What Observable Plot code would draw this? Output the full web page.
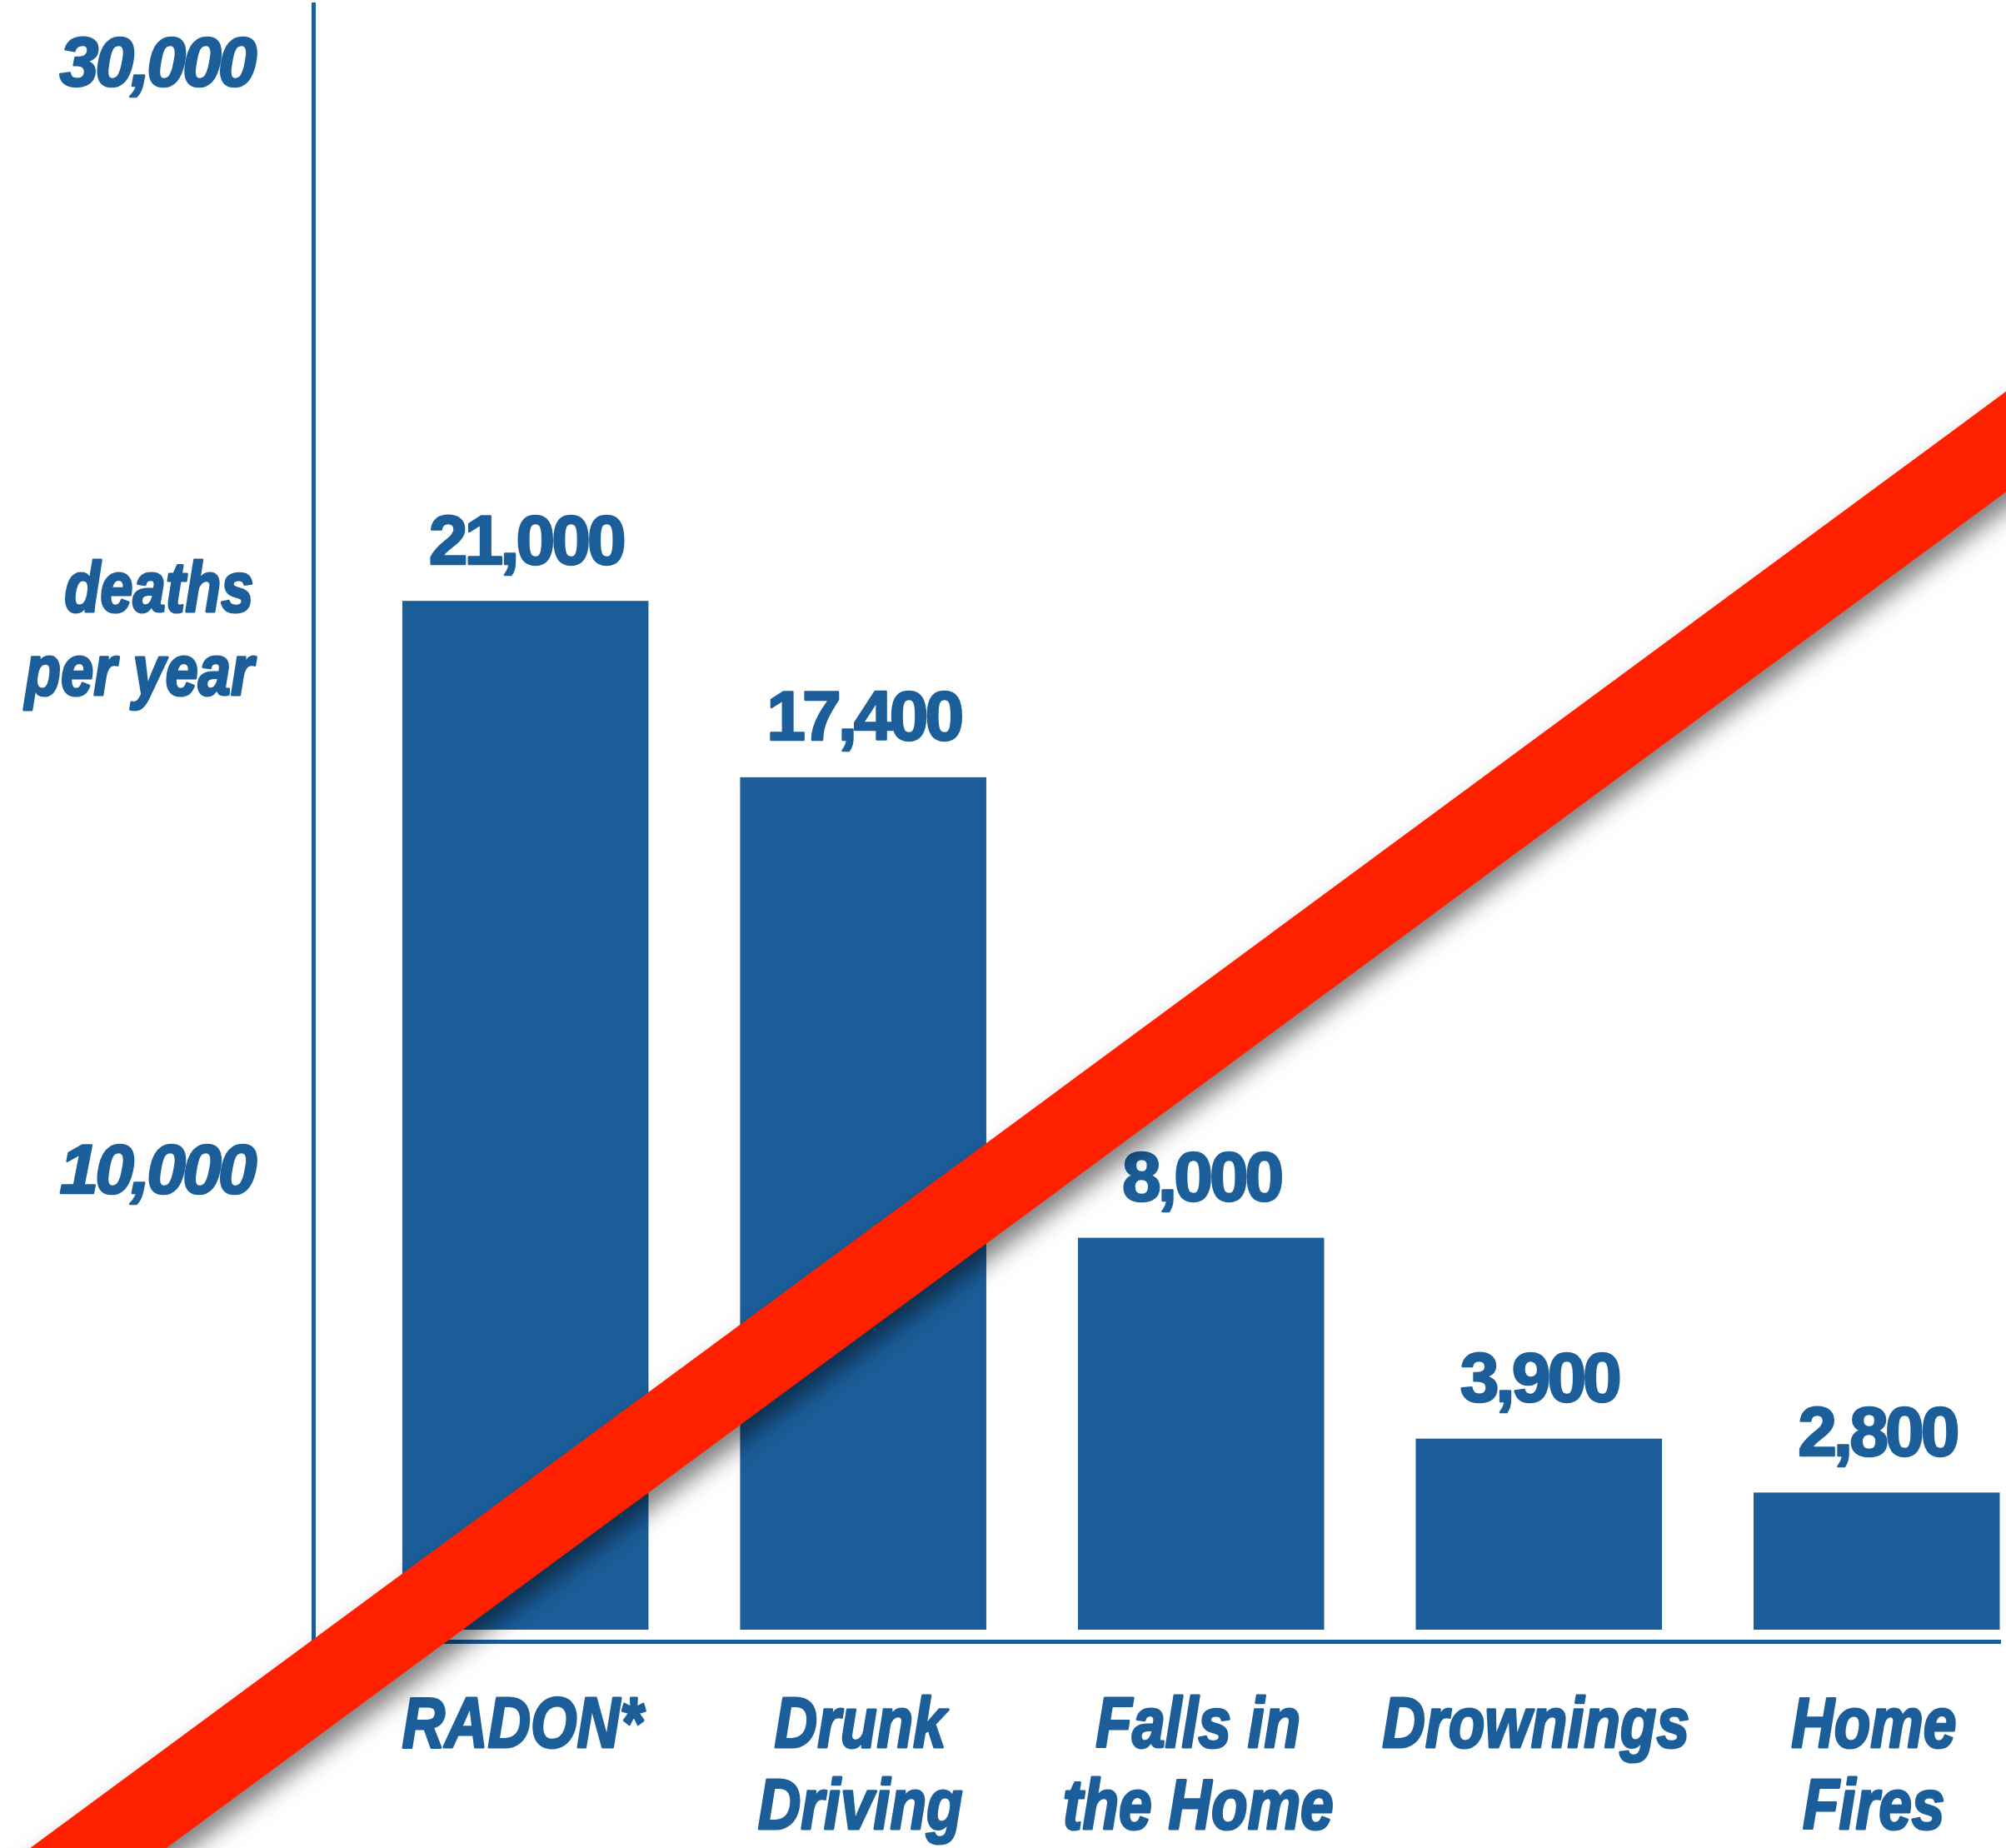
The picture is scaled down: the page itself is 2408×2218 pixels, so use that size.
<!DOCTYPE html>
<html>
<head>
<meta charset="utf-8">
<script src="https://cdn.jsdelivr.net/npm/d3@7"></script>
<script src="https://cdn.jsdelivr.net/npm/@observablehq/plot@0.6"></script>
<style>
  html, body { margin: 0; padding: 0; background: #fff; overflow: hidden; }
  #chart svg { display: block; }
  .strike { filter: drop-shadow(10px 14px 14px rgba(0,0,0,0.5)); }
  .num text { letter-spacing: -4px; }
</style>
</head>
<body>
<div id="chart"></div>
<script>
// ---- data ----
const categories = ["RADON*", "Drunk\nDriving", "Falls in\nthe Home", "Drownings", "Home\nFires"];
const deaths = [21000, 17400, 8000, 3900, 2800];
const yTicks = [10000, 30000];
const yTitle = "deaths\nper year";
// red strike-through bar, endpoints in data units (category index, deaths)
const strike = [{x: -1.425, y: -7800}, {x: 5.25, y: 26130}];

// ---- derived table ----
const data = categories.map((c, i) => ({cat: c, i, value: deaths[i]}));

const blue = "#1b5e9a";
const red = "#ff2000";
const xDomain = [-0.128, 4.868];
const yDomain = [-238, 33214];
const numFont = "'Liberation Sans', Arial, Helvetica, sans-serif";
const labFont = "'Liberation Sans', Arial, sans-serif";
const condense = 0.83; // horizontal squeeze to mimic the condensed heavy italic face
const fmt = d3.format(",");

const chart = Plot.plot({
  width: 2408,
  height: 2218,
  marginLeft: 376,
  marginRight: 6,
  marginTop: 3,
  marginBottom: 248,
  style: {background: "#fff", overflow: "hidden"},
  x: {type: "linear", domain: xDomain, axis: null},
  y: {type: "linear", domain: yDomain, axis: null},
  marks: [
    // bars
    Plot.rectY(data, {x1: "i", x2: d => d.i + 1, y: "value", fill: blue, insetLeft: 55, insetRight: 55}),
    // axis lines
    Plot.ruleX([xDomain[0]], {stroke: blue, strokeWidth: 5}),
    Plot.ruleY([yDomain[0]], {stroke: blue, strokeWidth: 5}),
    // value labels
    Plot.text(data, {
      x: d => d.i + 0.5, y: "value", text: d => fmt(d.value),
      lineAnchor: "bottom", dy: -45,
      fill: blue, stroke: blue, strokeWidth: 2.5,
      fontSize: 84, fontWeight: "bold", fontFamily: numFont, className: "num"
    }),
    // y tick labels
    Plot.text(yTicks.filter(d => d < 20000), {
      y: d => d, text: d => fmt(d), frameAnchor: "left", textAnchor: "end",
      dx: -72, dy: 37,
      fill: blue, stroke: blue, strokeWidth: 2.5,
      fontSize: 84, fontWeight: "bold", fontStyle: "italic", fontFamily: numFont, className: "num"
    }),
    Plot.text(yTicks.filter(d => d >= 20000), {
      text: d => fmt(d), frameAnchor: "top-left", textAnchor: "end", lineAnchor: "top",
      dx: -72, dy: 40,
      fill: blue, stroke: blue, strokeWidth: 2.5,
      fontSize: 84, fontWeight: "bold", fontStyle: "italic", fontFamily: numFont, className: "num"
    }),
    // y axis title
    Plot.text([yTitle], {
      text: d => d, frameAnchor: "left", textAnchor: "end", lineAnchor: "middle",
      dx: -72, dy: -235, lineHeight: 1.17,
      fill: blue, stroke: blue, strokeWidth: 3,
      fontSize: 85, fontWeight: "bold", fontStyle: "italic", fontFamily: labFont, className: "lab"
    }),
    // category labels
    Plot.text(data, {
      x: d => d.i + 0.5, text: "cat", frameAnchor: "bottom", lineAnchor: "top",
      dx: -4, dy: 57, lineHeight: 1.14,
      fill: blue, stroke: blue, strokeWidth: 3,
      fontSize: 86, fontWeight: "bold", fontStyle: "italic", fontFamily: labFont, className: "lab"
    }),
    // red strike
    Plot.line(strike, {x: "x", y: "y", stroke: red, strokeWidth: 97, strokeLinecap: "butt", className: "strike"})
  ]
});

// squeeze label text horizontally about its anchor point
chart.querySelectorAll(".lab text").forEach(el => {
  const t = el.getAttribute("transform") || "";
  const m = /translate\(\s*([-\d.e]+)[\s,]+([-\d.e]+)\s*\)/.exec(t);
  const X = m ? +m[1] : +(el.getAttribute("x") || 0);
  el.setAttribute("transform", `translate(${X},0) scale(${condense},1) translate(${-X},0) ${t}`);
});

document.getElementById("chart").appendChild(chart);
</script>
</body>
</html>
